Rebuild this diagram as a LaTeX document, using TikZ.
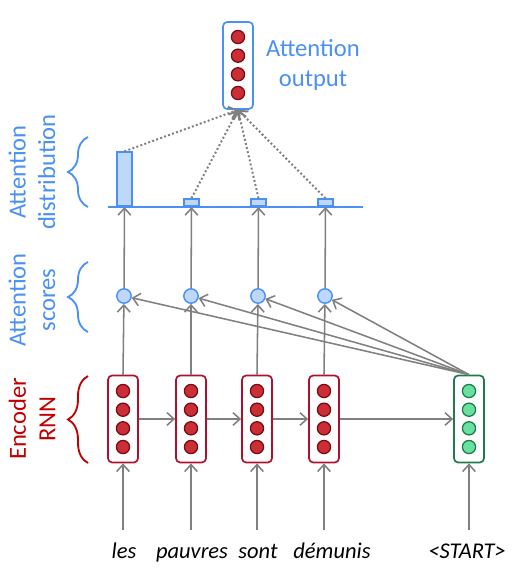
\documentclass[tikz,border=0pt]{standalone}
\usepackage{fontspec}
\setmainfont{Carlito}
\usepackage{tikz}
\usetikzlibrary{decorations.pathreplacing,arrows.meta}
\definecolor{attblue}{RGB}{74,144,245}
\definecolor{lightblue}{RGB}{190,216,250}
\definecolor{encred}{RGB}{176,16,48}
\definecolor{dotred}{RGB}{204,46,53}
\definecolor{dotdark}{RGB}{120,10,20}
\definecolor{decgreen}{RGB}{30,122,74}
\definecolor{dotgreen}{RGB}{104,224,160}
\definecolor{labelred}{RGB}{192,0,0}
\definecolor{arrgray}{RGB}{128,128,128}

\begin{document}
\begin{tikzpicture}[x=0.025cm,y=-0.025cm,>={Straight Barb[length=5pt,width=9pt]}]
		\tikzstyle{vec}=[draw,rounded corners=3pt,line width=1.2pt,minimum width=0.75cm,minimum height=2.175cm,inner sep=0pt]
		\tikzstyle{enc}=[vec,draw=encred]
		\tikzstyle{dec}=[vec,draw=decgreen]
		\tikzstyle{outv}=[vec,draw=attblue]
		\tikzstyle{dot}=[circle,draw=dotdark,fill=dotred,line width=0.9pt,minimum size=0.33cm,inner sep=0pt]
		\tikzstyle{gdot}=[dot,draw=decgreen,fill=dotgreen]
		\tikzstyle{score}=[circle,draw=attblue,fill=lightblue,line width=1pt,minimum size=0.36cm,inner sep=0pt]
		\tikzstyle{bar}=[draw=attblue,fill=lightblue,line width=1.2pt,minimum width=0.375cm,inner sep=0pt,anchor=south]
		\tikzstyle{word}=[font=\fontsize{16}{18}\selectfont\itshape,inner sep=0pt,text height=0.7cm,text depth=0.1cm,anchor=base]
		\tikzstyle{lab}=[font=\fontsize{17.5}{21}\selectfont,align=center]
		\tikzstyle{arr}=[->,draw=arrgray,line width=1.1pt]
		\tikzstyle{dots}=[arr,line width=1.4pt,dash pattern=on 1.4pt off 1.6pt]
		\tikzstyle{brc}=[decorate,decoration={brace,amplitude=0.5cm},line width=1.3pt]

		\useasboundingbox (0,0) rectangle (521,573);

		\node[enc](e1) at (123,419){};
		\node[enc](e2) at (191,419){};
		\node[enc](e3) at (257,419){};
		\node[enc](e4) at (324,419){};
		\node[dec](d1) at (469,419){};
		\node[outv](o) at (238,65.5){};

		\foreach \x/\n in {123/1,191/2,257/3,324/4}
			\foreach \y/\m in {391/1,409.7/2,428.3/3,447/4}
				\node[dot](e\n d\m) at (\x,\y){};
		\foreach \y/\m in {391/1,409.7/2,428.3/3,447/4}
			\node[gdot](d1d\m) at (469,\y){};
		\foreach \y/\m in {37/1,55.7/2,74.3/3,93/4}
			\node[dot](od\m) at (238,\y){};

		\node[score](s1) at (124,296){};
		\node[score](s2) at (191,296){};
		\node[score](s3) at (258,296){};
		\node[score](s4) at (325,296){};

		\draw[attblue,line width=1.2pt] (108,207) -- (363,207);
		\node[bar,minimum height=1.35cm](b1) at (124.5,207){};
		\node[bar,minimum height=0.175cm](b2) at (191.5,207){};
		\node[bar,minimum height=0.175cm](b3) at (258.5,207){};
		\node[bar,minimum height=0.175cm](b4) at (325.5,207){};

		\node[word](w1) at (124,558){les};
		\node[word](w2) at (192,558){pauvres};
		\node[word](w3) at (258,558){sont};
		\node[word](w4) at (332,558){démunis};
		\node[word](w5) at (467,558){<START>};

		\draw[arr] (e1 |- w1.north) -- (e1);
		\draw[arr] (e2 |- w2.north) -- (e2);
		\draw[arr] (e3 |- w3.north) -- (e3);
		\draw[arr] (e4 |- w4.north) -- (e4);
		\draw[arr] (d1 |- w5.north) -- (d1);

		\draw[arr] (e1) -- (e2);
		\draw[arr] (e2) -- (e3);
		\draw[arr] (e3) -- (e4);
		\draw[arr] (e4) -- (d1);

		\draw[arr] (e1.north) -- (s1);
		\draw[arr] (e2.north) -- (s2);
		\draw[arr] (e3.north) -- (s3);
		\draw[arr] (e4.north) -- (s4);

		\draw[arr] (d1.north) -- (s1);
		\draw[arr] (d1.north) -- (s2);
		\draw[arr] (d1.north) -- (s3);
		\draw[arr] (d1.north) -- (s4);

		\draw[arr] (s1) -- (b1.south);
		\draw[arr] (s2) -- (b2.south);
		\draw[arr] (s3) -- (b3.south);
		\draw[arr] (s4) -- (b4.south);

		\draw[dots] (b1.north) -- (o.south);
		\draw[dots] (b2.north) -- (o.south);
		\draw[dots] (b3.north) -- (o.south);
		\draw[dots] (b4.north) -- (o.south);

		\node[lab,attblue](lout) at (313,65){Attention\\output};
		\node[lab,attblue,rotate=90](ldist) at (32,172){Attention\\distribution};
		\node[lab,attblue,rotate=90](lscore) at (32,300){Attention\\scores};
		\node[lab,labelred,rotate=90](lenc) at (32,419){Encoder\\RNN};

		\draw[brc,attblue] (88,207) -- (88,137);
		\draw[brc,attblue] (88,332) -- (88,262);
		\draw[brc,labelred] (88,463) -- (88,376);
	\end{tikzpicture}
\end{document}
